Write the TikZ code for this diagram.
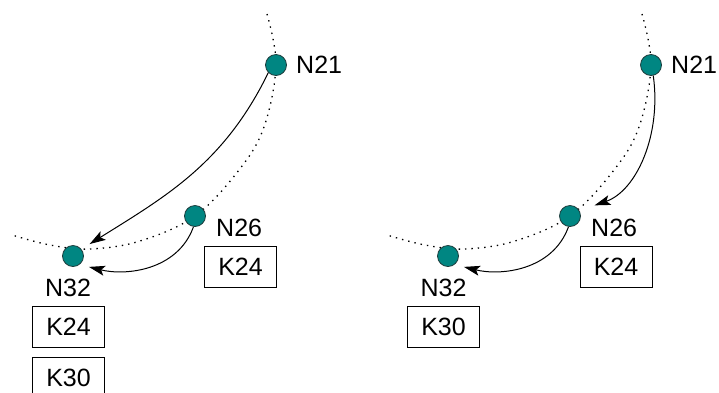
\documentclass[tikz,border=0pt]{standalone}
\usepackage{fontspec}
\setmainfont{Liberation Sans}
\usetikzlibrary{arrows.meta}
\definecolor{nodeteal}{RGB}{0,134,130}
\definecolor{nodeedge}{RGB}{30,60,60}
\tikzset{
  netnode/.style={circle, fill=nodeteal, draw=nodeedge, line width=0.8pt, minimum size=21pt, inner sep=0pt},
  lbl/.style={inner sep=0pt, font=\fontsize{25}{29}\selectfont},
  kbox/.style={draw, line width=1pt, minimum width=72pt, minimum height=41pt, inner sep=0pt, font=\fontsize{25}{29}\selectfont},
  arc/.style={line width=1.3pt, dash pattern=on 1.4pt off 5pt},
  arr/.style={line width=1pt, -{Stealth[length=16pt,width=10pt,inset=3.5pt]}}
}
\begin{document}
\begin{tikzpicture}[x=1pt,y=1pt]
\useasboundingbox (0,0) rectangle (719,-392);
\clip (0,0) rectangle (719,-392);
% dotted arcs
\draw[arc] plot[smooth, tension=0.6] coordinates {(267,-14) (276,-65) (264,-127) (239,-170) (195,-216) (140,-241) (90,-249) (50,-245) (12,-235)};
\draw[arc] plot[smooth, tension=0.6] coordinates {(642,-14) (651,-65) (639,-127) (614,-170) (570,-216) (515,-241) (465,-249) (425,-245) (387,-235)};
% left panel
\node[netnode] (L21) at (276,-65) {};
\node[netnode] (L26) at (195,-216) {};
\node[netnode] (L32) at (73,-256) {};
\node[lbl, anchor=west] (L21t) at (296,-65) {N21};
\node[lbl, anchor=west] (L26t) at (216,-228) {N26};
\node[lbl] (L32t) at (68,-288) {N32};
\node[kbox] (L26k) at (240.5,-266.5) {K24};
\node[kbox] (L32k1) at (68.5,-327) {K24};
\node[kbox] (L32k2) at (68.5,-378) {K30};
\draw[arr, shorten >=9.6pt] (L21.225) to[out=244, in=32] (L32.39);
\draw[arr, shorten >=9.5pt] (L26.262) to[out=250, in=-14] (L32.-52);
% right panel
\node[netnode] (R21) at (651,-65) {};
\node[netnode] (R26) at (570,-216) {};
\node[netnode] (R32) at (448,-256) {};
\node[lbl, anchor=west] (R21t) at (671,-65) {N21};
\node[lbl, anchor=west] (R26t) at (591,-228) {N26};
\node[lbl] (R32t) at (443.5,-288) {N32};
\node[kbox] (R26k) at (616,-266.5) {K24};
\node[kbox] (R32k) at (443.5,-327) {K30};
\draw[arr, shorten >=16pt] (R21.282) to[out=-82, in=19] (R26.30);
\draw[arr, shorten >=9.5pt] (R26.262) to[out=250, in=-14] (R32.-52);
\end{tikzpicture}
\end{document}
